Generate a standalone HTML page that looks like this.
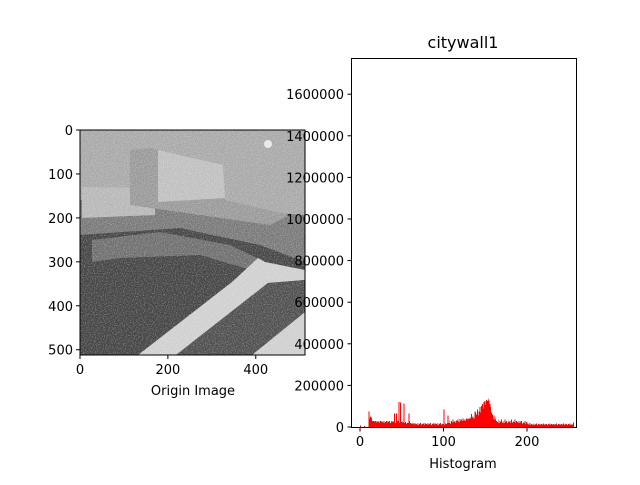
<!DOCTYPE html>
<html><head><meta charset="utf-8"><style>
body{margin:0;background:#fff}
text{font-family:"DejaVu Sans","Liberation Sans",sans-serif;font-size:13px;fill:#000}
</style></head><body>
<svg id="fig" width="640" height="480" viewBox="0 0 640 480" xmlns="http://www.w3.org/2000/svg">
<defs>
<filter id="grain" x="0" y="0" width="100%" height="100%">
<feTurbulence type="fractalNoise" baseFrequency="0.9" numOctaves="1" seed="3"/>
<feColorMatrix type="matrix" values="0 0 0 0 1  0 0 0 0 1  0 0 0 0 1  2 0 0 0 -0.9"/>
</filter>
<clipPath id="imgclip"><rect x="80" y="130" width="225" height="225"/></clipPath>
</defs>
<g clip-path="url(#imgclip)">
<rect x="80" y="130" width="225" height="225" fill="#a9a9a9"/>
<polygon points="80,200 305,215 305,355 80,355" fill="#7a7a7a"/>
<polygon points="80,235 180,228 260,245 305,262 305,355 80,355" fill="#464646"/>
<polygon points="82,187 155,188 155,215 82,218" fill="#b8b8b8"/>
<polygon points="130,150 150,148 223,165 225,200 290,215 270,225 130,205" fill="#9a9a9a"/>
<polygon points="158,150 223,165 225,198 158,202" fill="#c0c0c0"/>
<polygon points="92,240 160,232 230,245 265,262 258,272 200,255 120,258 92,262" fill="#707070"/>
<polygon points="138,355 176,355 268,283 305,280 305,270 265,262 258,258 232,282" fill="#d0d0d0"/>
<polygon points="176,355 252,355 305,312 305,280 268,283" fill="#505050"/>
<polygon points="252,355 305,355 305,312" fill="#d0d0d0"/>
<circle cx="268" cy="144" r="4" fill="#e8e8e8"/>
<rect x="80" y="130" width="225" height="225" filter="url(#grain)" opacity="0.5"/>
</g>
<rect x="80" y="130" width="225" height="225" fill="none" stroke="#000" stroke-width="1"/>
<text x="193" y="395" text-anchor="middle">Origin Image</text>

<g id="hist" shape-rendering="crispEdges"></g>
<rect x="351.5" y="58.5" width="225" height="369" fill="none" stroke="#000" stroke-width="1"/>
<text x="463" y="48" text-anchor="middle" style="font-size:16px">citywall1</text>
<text x="463" y="468" text-anchor="middle">Histogram</text>
</svg>
<script>
const bins = [];
const counts = [
8,0,0,0,0,6,0,0,0,0,75,40,50,45,30,28,
30,25,28,22,30,25,28,20,30,25,28,22,30,20,25,28,
22,30,25,28,20,26,30,24,30,64,20,64,28,30,120,20,
118,25,30,22,112,20,25,18,22,20,64,30,20,18,22,15,
20,12,18,15,20,10,18,14,20,12,18,15,20,10,18,14,
20,12,18,15,20,10,18,14,20,12,18,15,20,10,18,14,
20,12,18,15,83,10,18,14,20,56,20,28,18,30,22,35,
25,30,20,32,28,35,25,38,30,35,28,40,32,36,30,42,
35,40,38,45,40,62,45,50,42,75,70,60,85,55,75,95,
70,100,110,90,120,125,105,130,125,136,128,110,95,70,60,40,
55,35,45,30,25,35,20,30,25,35,22,30,20,35,25,30,
20,32,25,30,20,35,22,30,25,35,20,30,25,30,20,28,
22,30,18,25,20,28,15,25,18,15,12,20,10,15,12,18,
10,15,12,18,10,15,12,14,10,15,12,18,10,14,12,15,
10,15,12,18,10,14,12,15,10,15,12,18,10,14,12,15,
10,15,12,18,10,14,12,15,10,15,12,18,10,14,12,22];
for (let i = 0; i < counts.length; i++) bins.push(i);
const histXTicks = [0, 100, 200];
const histYTicks = [0, 200000, 400000, 600000, 800000, 1000000, 1200000, 1400000, 1600000];
const imgXTicks = [0, 200, 400];
const imgYTicks = [0, 100, 200, 300, 400, 500];

const NS = "http://www.w3.org/2000/svg";
const hx = v => 360 + v * 0.835;
const hy = v => 427 - v * 0.000208;
const ix = v => 80 + v * 225 / 512;
const iy = v => 130 + v * 225 / 512;
function mk(tag, attrs, parent) {
  const e = document.createElementNS(NS, tag);
  for (const k in attrs) e.setAttribute(k, attrs[k]);
  parent.appendChild(e);
  return e;
}
const hist = document.getElementById("hist");
bins.forEach((b, i) => {
  const v = counts[i] * 1000;
  if (v <= 0) return;
  const r = mk("rect", {x: hx(b), y: hy(v), width: 0.9, height: 427 - hy(v), fill: "#ff0000"}, hist);
  
  
});
const fig = document.getElementById("fig");
histXTicks.forEach(t => {
  const l = mk("line", {x1: hx(t), x2: hx(t), y1: 427.5, y2: 431.5, stroke: "#000"}, fig);
  
  
  const tx = mk("text", {x: hx(t), y: 446, "text-anchor": "middle"}, fig);
  tx.textContent = t;
  
  
});
histYTicks.forEach(t => {
  const l = mk("line", {x1: 347.5, x2: 351.5, y1: hy(t), y2: hy(t), stroke: "#000"}, fig);
  
  
  const tx = mk("text", {x: 344, y: hy(t) + 5, "text-anchor": "end"}, fig);
  tx.textContent = t;
  
  
});
imgXTicks.forEach(t => {
  const l = mk("line", {x1: ix(t), x2: ix(t), y1: 355, y2: 359, stroke: "#000"}, fig);
  
  
  const tx = mk("text", {x: ix(t), y: 374, "text-anchor": "middle"}, fig);
  tx.textContent = t;
  
  
});
imgYTicks.forEach(t => {
  const l = mk("line", {x1: 76, x2: 80, y1: iy(t), y2: iy(t), stroke: "#000"}, fig);
  
  
  const tx = mk("text", {x: 73, y: iy(t) + 5, "text-anchor": "end"}, fig);
  tx.textContent = t;
  
  
});
</script>
</body></html>
